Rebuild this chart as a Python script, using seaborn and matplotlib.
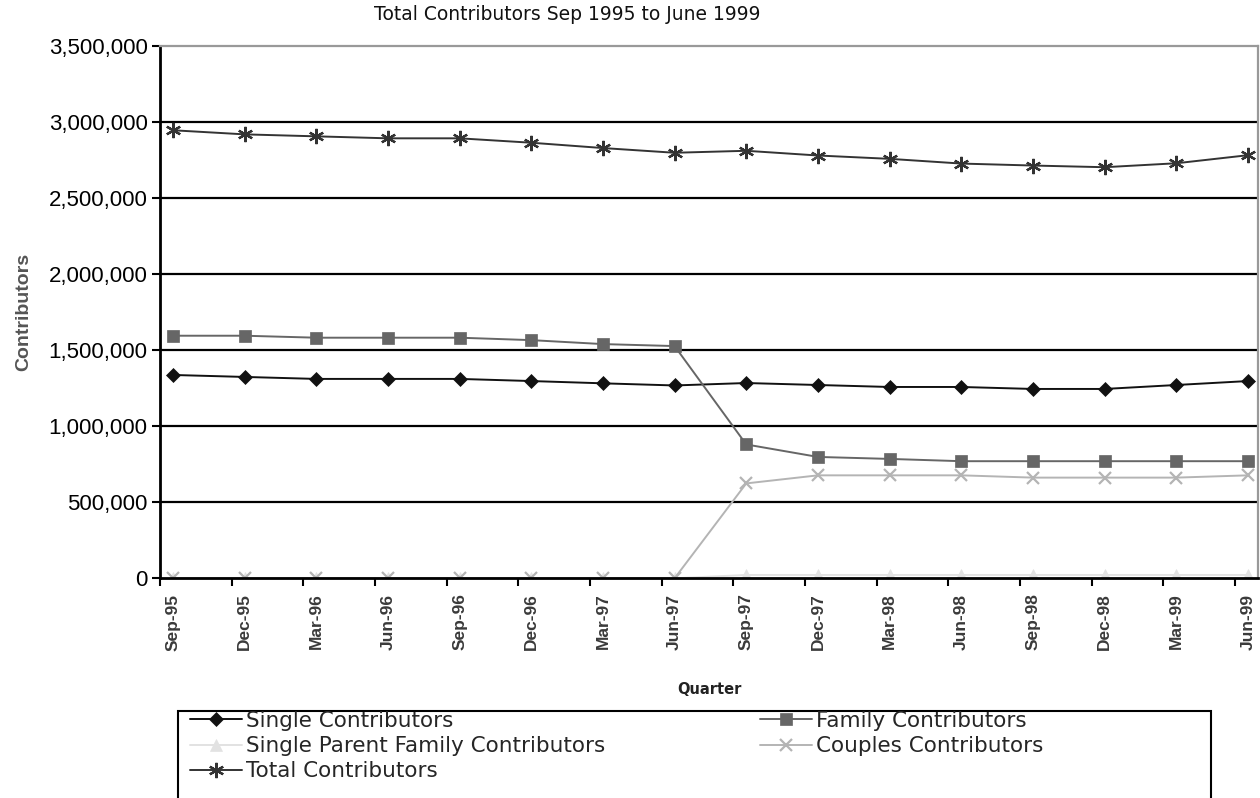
import numpy as np
import pandas as pd
import matplotlib
matplotlib.use("Agg")
import matplotlib.pyplot as plt
import seaborn as sns
from matplotlib.ticker import FuncFormatter
from matplotlib.patches import Rectangle

quarters = ["Sep-95", "Dec-95", "Mar-96", "Jun-96", "Sep-96", "Dec-96", "Mar-97", "Jun-97",
            "Sep-97", "Dec-97", "Mar-98", "Jun-98", "Sep-98", "Dec-98", "Mar-99", "Jun-99"]

single = [1337000, 1324000, 1311000, 1311000, 1311000, 1297000, 1282000, 1268000,
          1284000, 1271000, 1258000, 1258000, 1245000, 1245000, 1271000, 1297000]
family = [1595000, 1595000, 1582000, 1582000, 1582000, 1566000, 1540000, 1527000,
          880000, 798000, 785000, 770000, 770000, 770000, 770000, 770000]
single_parent = [0, 0, 0, 0, 0, 0, 0, 0,
                 22000, 22000, 22000, 22000, 22000, 22000, 22000, 22000]
couples = [0, 0, 0, 0, 0, 0, 0, 0,
           624000, 677000, 677000, 677000, 662000, 662000, 662000, 677000]
total = [2946000, 2919000, 2906000, 2893000, 2893000, 2864000, 2829000, 2798000,
         2811000, 2780000, 2758000, 2727000, 2714000, 2703000, 2729000, 2782000]

series = [
    ("Single Contributors", single, "#111111", "D", 7),
    ("Family Contributors", family, "#666666", "s", 8),
    ("Single Parent Family Contributors", single_parent, "#e2e2e2", "^", 9),
    ("Couples Contributors", couples, "#b4b4b4", "x", 9),
    ("Total Contributors", total, "#333333", (6, 2, 0), 11),
]

sns.set_theme(style="white")
plt.rcParams["font.family"] = ["Liberation Sans", "DejaVu Sans"]

W, H = 1260, 798
fig = plt.figure(figsize=(W / 100, H / 100), dpi=100)
ax = fig.add_axes([160 / W, (H - 578.3) / H, (1258 - 160) / W, (578.3 - 46) / H])

x = np.arange(len(quarters))
handles = {}
for name, vals, color, marker, ms in series:
    sns.lineplot(x=x, y=vals, ax=ax, color=color, marker=marker, markersize=ms,
                 markeredgecolor=color, markeredgewidth=1.6 if marker in ("x", (6, 2, 0)) else 0.5,
                 linewidth=1.4, label=name, legend=False)
    handles[name] = ax.lines[-1]

ax.set_xlim(-0.18, 15.14)
ax.set_ylim(0, 3500000)

# horizontal gridlines
for yv in np.arange(500000, 3500000, 500000):
    ax.axhline(yv, color="black", linewidth=1.6, zorder=0.5)

ax.set_yticks(np.arange(0, 3500001, 500000))
ax.yaxis.set_major_formatter(FuncFormatter(lambda v, p: f"{int(v):,}"))
ax.tick_params(axis="y", which="major", direction="out", length=6, width=1.5,
               color="black", labelsize=16, labelcolor="black", pad=3, left=True)

ax.set_xticks(x)
ax.set_xticklabels(quarters, rotation=90, fontsize=12.5, color="#3a3a3a", fontweight="bold")
ax.set_xticks(np.arange(16) - 0.18, minor=True)
ax.tick_params(axis="x", which="major", length=0, pad=11)
ax.tick_params(axis="x", which="minor", direction="out", length=6, width=1.5,
               color="black", bottom=True)

for side in ("left", "bottom"):
    ax.spines[side].set_color("black")
    ax.spines[side].set_linewidth(2)
for side in ("top", "right"):
    ax.spines[side].set_color("#999999")
    ax.spines[side].set_linewidth(1.6)

ax.set_ylabel("Contributors", fontsize=14, color="#555555", fontweight="bold")
ax.yaxis.set_label_coords(-(160 - 32) / (1258 - 160), 0.5)
ax.set_xlabel("Quarter", fontsize=10.5, color="#222222", fontweight="bold",
              family=["DejaVu Sans"])
ax.xaxis.set_label_coords(0.5, -(690 - 578.3) / (578.3 - 46))
ax.xaxis.label.set_va("center")

fig.text(567 / W, 1 - 14 / H, "Total Contributors Sep 1995 to June 1999",
         ha="center", va="center", fontsize=13.5, color="#111111",
         family=["DejaVu Sans"])

# legend box, running off the bottom edge of the figure
fig.add_artist(Rectangle((178 / W, -0.05), (1211 - 178) / W, 1 - 711 / H + 0.05,
                         transform=fig.transFigure, facecolor="white",
                         edgecolor="black", linewidth=1.5, zorder=1))

leg_kw = dict(loc="upper left", frameon=False, borderpad=0, borderaxespad=0,
              handlelength=2.4, handletextpad=0.22, labelspacing=0.24,
              prop={"family": ["DejaVu Sans"], "size": 15.5})
col1 = ["Single Contributors", "Single Parent Family Contributors", "Total Contributors"]
col2 = ["Family Contributors", "Couples Contributors"]
leg1 = fig.legend([handles[n] for n in col1], col1,
                  bbox_to_anchor=(190 / W, 1 - 711 / H), **leg_kw)
leg2 = fig.legend([handles[n] for n in col2], col2,
                  bbox_to_anchor=(760 / W, 1 - 711 / H), **leg_kw)
leg1.set_zorder(2)
leg2.set_zorder(2)

fig.savefig("out.png", dpi=100)
